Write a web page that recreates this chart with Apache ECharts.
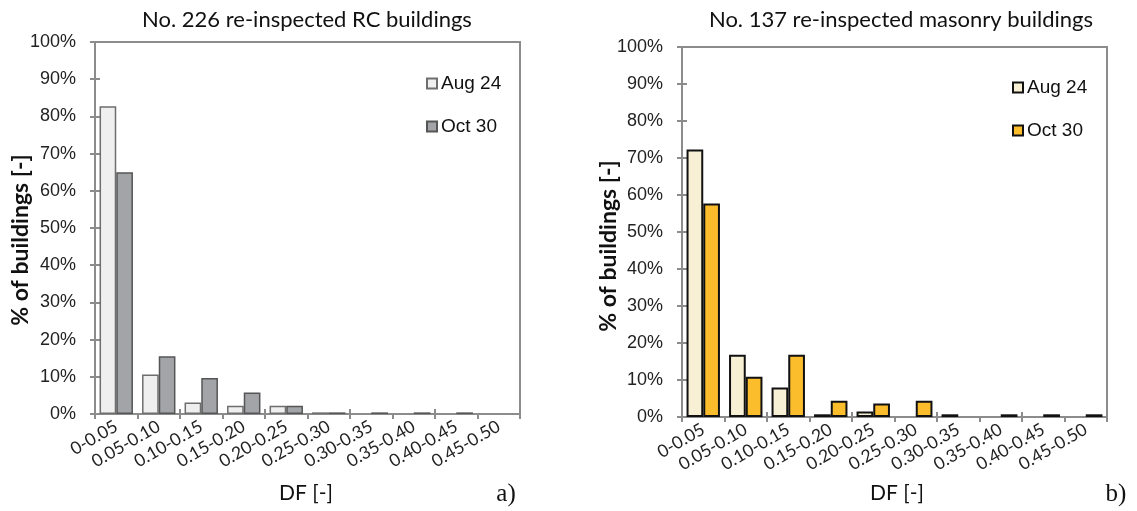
<!DOCTYPE html>
<html>
<head>
<meta charset="utf-8">
<script src="https://cdn.jsdelivr.net/npm/echarts@6/dist/echarts.min.js"></script>
<style>
  html, body { margin: 0; padding: 0; background: #fff; }
  #chart { width: 1137px; height: 511px; }
</style>
</head>
<body>
<div id="chart"></div>
<script>
// Damage factor (DF) classes on the horizontal axis
const dfClasses = ['0-0.05', '0.05-0.10', '0.10-0.15', '0.15-0.20', '0.20-0.25',
                   '0.25-0.30', '0.30-0.35', '0.35-0.40', '0.40-0.45', '0.45-0.50'];

// Share of re-inspected RC buildings per DF class [%]
const rcAug24 = [82.7, 10.6, 3.1, 2.2, 2.2, 0.44, 0, 0, 0, 0];
const rcOct30 = [65.0, 15.5, 9.7, 5.8, 2.2, 0.44, 0.44, 0.44, 0.44, 0];

// Share of re-inspected masonry buildings per DF class [%]
const masAug24 = [72.3, 16.8, 8.0, 0.73, 1.46, 0, 0.73, 0, 0, 0];
const masOct30 = [57.7, 10.9, 16.8, 4.38, 3.65, 4.38, 0, 0.73, 0.73, 0.73];

const yTicks = [0, 10, 20, 30, 40, 50, 60, 70, 80, 90, 100];

const panelTitles = ['No. 226 re-inspected RC buildings', 'No. 137 re-inspected masonry buildings'];
const dateNames = ['Aug 24', 'Oct 30'];

const chart = echarts.init(document.getElementById('chart'), null, { renderer: 'canvas' });

const sans = 'Lato, "Open Sans", sans-serif';
const arial = '"Liberation Sans", Arial, sans-serif';
const axisGray = '#8c8c8c';

// empty classes are left blank instead of drawing a flat bar
const bars = arr => arr.map(v => (v === 0 ? '-' : v));

const grids = [
  { left: 95, top: 42, width: 425, height: 372 },
  { left: 682, top: 47, width: 425, height: 370 }
];

function xAxes(gi) {
  return [
    {
      type: 'category', gridIndex: gi, data: dfClasses, position: 'bottom',
      axisLine: { lineStyle: { color: axisGray, width: 2 } },
      axisTick: { show: true, length: 5, lineStyle: { color: axisGray, width: 2 } },
      axisLabel: {
        interval: 0, hideOverlap: false,
        rotate: 30, margin: 11, color: '#222', fontFamily: sans, fontSize: 17.5
      }
    },
    {
      // upper half of the crossing tick marks
      type: 'category', gridIndex: gi, data: dfClasses, position: 'bottom',
      axisLine: { show: false },
      axisTick: { show: true, inside: true, length: 5, lineStyle: { color: axisGray, width: 2 } },
      axisLabel: { show: false }
    }
  ];
}

function yAxes(gi) {
  return [
    {
      type: 'value', gridIndex: gi, min: 0, max: 100, interval: 10, position: 'left',
      axisLine: { show: true, lineStyle: { color: axisGray, width: 2 } },
      axisTick: { show: true, length: 5, lineStyle: { color: axisGray, width: 2 } },
      splitLine: { show: false },
      axisLabel: {
        margin: 19, color: '#222', fontFamily: arial, fontSize: 18,
        formatter: v => (yTicks.includes(v) ? v + '%' : '')
      }
    },
    {
      type: 'value', gridIndex: gi, min: 0, max: 100, interval: 10, position: 'left',
      axisLine: { show: false },
      axisTick: { show: true, inside: true, length: 5, lineStyle: { color: axisGray, width: 2 } },
      splitLine: { show: false },
      axisLabel: { show: false }
    }
  ];
}

function barSeries(name, data, xi, fill, border, bw) {
  return {
    type: 'bar', name: name, data: bars(data),
    xAxisIndex: xi, yAxisIndex: xi,
    barWidth: 16.7, barGap: '0%',
    itemStyle: { color: fill, borderColor: border, borderWidth: bw },
    emphasis: { disabled: true }
  };
}

const legendBase = {
  orient: 'vertical', itemWidth: 10, itemHeight: 10, itemGap: 24,
  icon: 'rect', selectedMode: false,
  textStyle: { fontFamily: arial, fontSize: 19, color: '#111', padding: [0, 0, 0, -1] },
  formatter: n => n.split(' | ')[1]
};

chart.setOption({
  animation: false,
  backgroundColor: '#fff',
  title: [
    { text: panelTitles[0], left: 302, top: 4, textAlign: 'center',
      textStyle: { fontFamily: sans, fontSize: 22, fontWeight: 'normal', color: '#111' } },
    { text: panelTitles[1], left: 896, top: 4, textAlign: 'center',
      textStyle: { fontFamily: sans, fontSize: 22, fontWeight: 'normal', color: '#111' } }
  ],
  grid: grids.map(g => Object.assign({ show: true, borderColor: axisGray, borderWidth: 2, backgroundColor: 'transparent' }, g)),
  xAxis: [...xAxes(0), ...xAxes(1)],
  yAxis: [...yAxes(0), ...yAxes(1)],
  legend: [
    Object.assign({ left: 421, top: 69, data: ['RC | ' + dateNames[0], 'RC | ' + dateNames[1]] }, legendBase),
    Object.assign({ left: 1007, top: 73, data: ['MAS | ' + dateNames[0], 'MAS | ' + dateNames[1]] }, legendBase)
  ],
  series: [
    barSeries('RC | ' + dateNames[0], rcAug24, 0, '#efefef', '#6e6e6e', 1.5),
    barSeries('RC | ' + dateNames[1], rcOct30, 0, '#a2a4a8', '#555555', 1.5),
    barSeries('MAS | ' + dateNames[0], masAug24, 2, '#f8f0d4', '#111111', 2),
    barSeries('MAS | ' + dateNames[1], masOct30, 2, '#fbbd2c', '#111111', 2)
  ],
  graphic: [
    { type: 'text', x: 21, y: 240, rotation: Math.PI / 2,
      style: { text: '% of buildings [-]', fontFamily: sans, fontSize: 23, fontWeight: 'bold',
               fill: '#111', align: 'center', verticalAlign: 'middle' } },
    { type: 'text', x: 609, y: 246, rotation: Math.PI / 2,
      style: { text: '% of buildings [-]', fontFamily: sans, fontSize: 23, fontWeight: 'bold',
               fill: '#111', align: 'center', verticalAlign: 'middle' } },
    { type: 'text', x: 306, y: 493,
      style: { text: 'DF [-]', fontFamily: sans, fontSize: 21, fill: '#111',
               align: 'center', verticalAlign: 'middle' } },
    { type: 'text', x: 897, y: 493,
      style: { text: 'DF [-]', fontFamily: sans, fontSize: 21, fill: '#111',
               align: 'center', verticalAlign: 'middle' } },
    { type: 'text', x: 506, y: 494,
      style: { text: 'a)', fontFamily: '"Liberation Serif", serif', fontSize: 25, fill: '#111',
               align: 'center', verticalAlign: 'middle' } },
    { type: 'text', x: 1116, y: 494,
      style: { text: 'b)', fontFamily: '"Liberation Serif", serif', fontSize: 25, fill: '#111',
               align: 'center', verticalAlign: 'middle' } }
  ]
});
</script>
</body>
</html>
